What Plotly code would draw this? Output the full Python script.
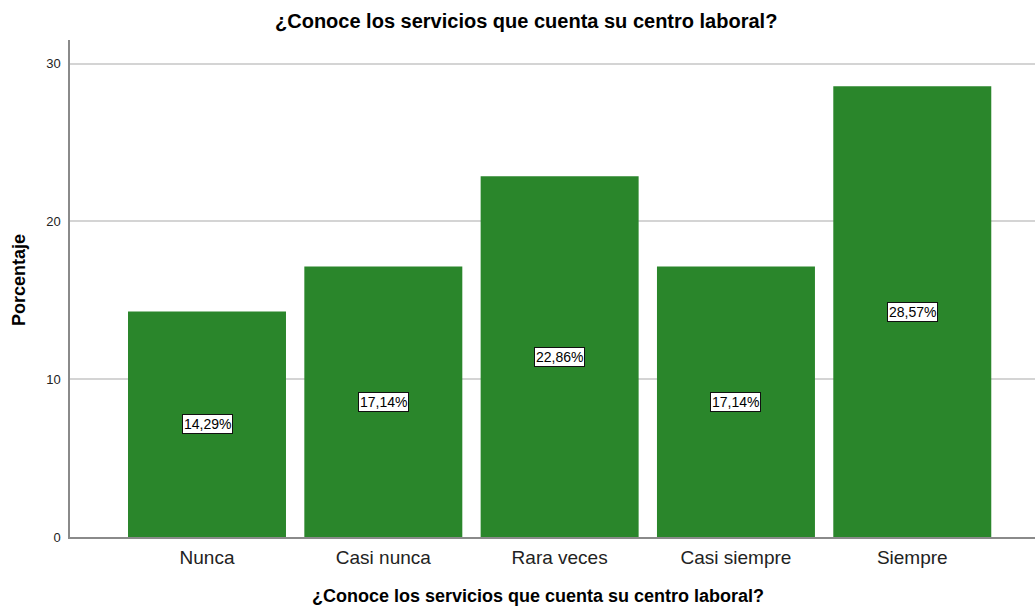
import plotly.graph_objects as go

categories = ["Nunca", "Casi nunca", "Rara veces", "Casi siempre", "Siempre"]
values = [14.29, 17.14, 22.86, 17.14, 28.57]
labels = ["14,29%", "17,14%", "22,86%", "17,14%", "28,57%"]
title = "¿Conoce los servicios que cuenta su centro laboral?"

fig = go.Figure()
fig.add_trace(go.Bar(x=categories, y=values, width=0.896,
                     marker=dict(color="#2a862b", line=dict(width=0)),
                     hoverinfo="skip"))

for c, v, t in zip(categories, values, labels):
    fig.add_annotation(x=c, y=v / 2, text=t, showarrow=False,
                       font=dict(family="Arial", size=14, color="black"),
                       bgcolor="white", bordercolor="#111", borderwidth=1, borderpad=1)

fig.add_annotation(xref="paper", yref="paper", x=(525.5 - 70) / 965, y=1, yshift=19, yanchor="middle",
                   text="<b>" + title + "</b>", showarrow=False,
                   font=dict(family="Arial", size=20, color="black"))
fig.add_annotation(xref="paper", yref="paper", x=(537.5 - 70) / 965, y=0, yshift=-59, yanchor="middle",
                   text="<b>" + title + "</b>", showarrow=False,
                   font=dict(family="Arial", size=18, color="black"))
fig.add_annotation(xref="paper", yref="paper", x=0, xshift=-51, y=(537 - 280) / 497, xanchor="center",
                   yanchor="middle",
                   text="<b>Porcentaje</b>", showarrow=False, textangle=-90,
                   font=dict(family="Arial", size=18, color="black"))

fig.update_layout(
    width=1035, height=608,
    margin=dict(l=70, r=0, t=40, b=71),
    paper_bgcolor="white", plot_bgcolor="white",
    showlegend=False,
    xaxis=dict(range=[-0.777, 4.696], showgrid=False, showline=True,
               linecolor="#8a8a8a", linewidth=1.5, ticks="",
               tickfont=dict(family="Arial", size=19, color="#222"), ticklabelstandoff=2),
    yaxis=dict(range=[0, 31.5], tickvals=[0, 10, 20, 30], showgrid=True,
               gridcolor="#d4d4d4", gridwidth=1.5, showline=True, linecolor="#8a8a8a",
               linewidth=1.5, zeroline=False, ticks="",
               tickfont=dict(family="Arial", size=13, color="#222"), ticklabelstandoff=5),
)

fig.write_html("out.html")
